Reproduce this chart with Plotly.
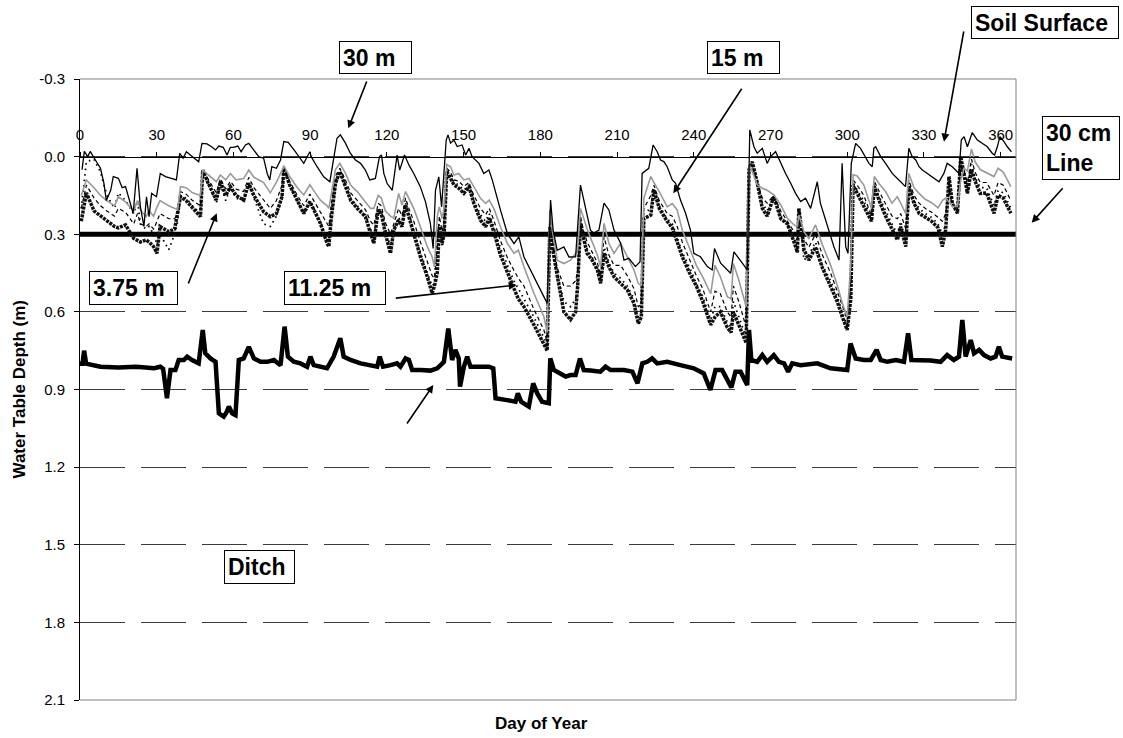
import plotly.graph_objects as go

# ---------------- data ----------------
DAYS_30M = [0.8, 1.7, 3, 4, 6, 8, 9.3, 10.3, 12, 13, 15, 16.5, 17.8, 19.7, 20.8, 22.3, 23.6, 25, 26, 27, 28, 29.9,
            31.4, 33.4, 35.4, 37.7, 39, 40.3, 41.6, 43.8, 46.4, 47.7, 49.7, 51.7, 53, 54.3, 56, 57.5, 58.8, 60, 61.7,
            63, 64.7, 66, 68, 69.9, 71.8, 73.2, 74.2, 75, 76.8, 78.4, 79.7, 81.4, 84.2, 87.5, 89.9, 90.4, 92.7, 95.3,
            97.7, 99.2, 100.5, 101.8, 103.8, 105.7, 107.7, 109.7, 111.6, 113.3, 115.5, 117.1, 117.9, 118.8, 120.1,
            122.1, 124, 125, 126.9, 128.6, 130.5, 133.1, 135.1, 137, 138.1, 139, 140.3, 141.4, 142.3, 143.2, 143.9,
            144.9, 146.2, 147.5, 149.4, 150.8, 152.1, 153.3, 156, 157.9, 159.9, 161.2, 164.4, 167.1, 169.7, 171.6,
            173.6, 177.5, 181.4, 182.7, 184, 185, 186.6, 189.2, 191.2, 193.8, 195.7, 197.7, 199.6, 200.9, 202.9,
            204.9, 206.8, 208.8, 211.4, 212.7, 214.6, 217.2, 219, 219.8, 222.4, 224.1, 225.7, 227, 228.3, 229.6,
            231.6, 232.9, 234.8, 236.8, 238.7, 240, 242.6, 245.3, 247.2, 248.1, 250.5, 254.4, 255.7, 259, 260.9,
            261.9, 263.5, 264.8, 266.8, 268.7, 270, 272, 274, 275.9, 277.9, 279.8, 281.8, 283.7, 285.7, 288.3,
            289.5, 292.2, 294.8, 296.8, 298, 299.4, 300.3, 301.6, 303.3, 305.2, 307.2, 308.5, 309.8, 310.4, 311.1,
            313.1, 315, 317.6, 320.2, 322.8, 324.1, 325.4, 326.8, 328.1, 329.4, 331.3, 333.3, 335.9, 337.8, 339.1,
            341.1, 342.4, 343.7, 344.6, 345.7, 347, 348.9, 350.9, 352.8, 354.8, 356.7, 357.6, 358.7, 359.7, 361.3,
            362.6, 364.2]
DEPTH_30M = [0.05, -0.02, 0.0, -0.02, 0.013, 0.045, 0.1, 0.17, 0.13, 0.077, 0.084, 0.12, 0.116, 0.18, 0.22, 0.045,
             0.193, 0.27, 0.155, 0.232, 0.142, 0.155, 0.065, 0.077, 0.084, 0.09, -0.013, 0.006, -0.019, 0.0, 0.02,
             -0.051, -0.049, -0.036, -0.026, -0.041, -0.036, -0.006, -0.036, -0.036, -0.041, -0.019, -0.045,
             -0.051, -0.026, 0.0, 0.006, 0.065, 0.09, 0.039, 0.045, 0.013, -0.058, -0.055, -0.019, 0.026, -0.019,
             0.0, 0.039, 0.078, 0.097, 0.0, -0.071, -0.084, -0.052, -0.013, 0.013, 0.026, 0.052, 0.09, 0.084, 0.0,
             -0.006, 0.065, 0.104, 0.13, -0.006, 0.052, -0.006, 0.032, 0.065, 0.117, 0.175, 0.258, 0.355, 0.13,
             0.078, 0.194, 0.078, -0.064, -0.084, -0.052, -0.064, -0.039, -0.045, -0.006, -0.032, 0.0, 0.026,
             0.065, 0.052, 0.09, 0.206, 0.297, 0.336, 0.31, 0.388, 0.465, 0.541, 0.567, 0.168, 0.284, 0.362,
             0.349, 0.388, 0.387, 0.11, 0.206, 0.284, 0.296, 0.284, 0.18, 0.206, 0.284, 0.335, 0.4, 0.393, 0.425,
             0.406, 0.065, 0.045, -0.045, -0.019, 0.013, 0.019, 0.039, 0.09, 0.103, 0.168, 0.219, 0.284, 0.374,
             0.387, 0.425, 0.438, 0.355, 0.412, 0.451, 0.368, 0.412, 0.438, -0.103, -0.039, -0.013, -0.032, 0.026,
             0.0, -0.019, 0.026, 0.065, 0.103, 0.142, 0.174, 0.161, 0.2, 0.097, 0.18, 0.27, 0.348, 0.4, 0.026,
             0.348, 0.374, 0.026, -0.051, -0.032, 0.0, 0.026, 0.039, -0.032, -0.038, 0.0, 0.026, 0.065, 0.09,
             0.116, -0.032, 0.0, 0.013, 0.039, 0.052, 0.065, 0.077, 0.097, 0.065, 0.026, 0.039, 0.052, 0.065,
             -0.064, -0.077, -0.038, -0.093, -0.064, -0.051, -0.038, -0.013, -0.006, -0.038, -0.077, -0.058,
             -0.038, -0.019]

DAYS = [0.5, 2.5, 5.5, 8, 10.5, 13.5, 15, 17.8, 21, 22.5, 23.6, 25.8, 27, 28.8, 30.1, 31.3, 34.7, 37, 38.2, 39.3,
        41.5, 44, 47.1,
        48, 50, 53.3, 54.9, 57, 58.8, 61, 64, 66, 68, 71.8, 74.4, 76.8, 79, 79.7, 82, 85, 87.5, 89.9, 92, 94, 96.6,
        97.3,
        98.2, 99.9, 101.6, 103.8, 105.8, 108.4, 111.6, 113.6, 114.9, 116.6, 117.8, 119.4, 121.4, 122.7, 124.6,
        125.9, 127.3, 128.6, 130.5, 133.1, 135.8, 137.7, 138.6, 139.7, 140.5, 141.6, 142.4,
        143.4, 144.9, 146.2, 148.1, 150.1, 152.1, 154, 156.6, 158.6, 160, 161.8, 164.4, 167.1, 169.7, 171.4, 173.6,
        177.5, 181.4, 182.7, 183.7, 184.7, 186.6, 189.2, 191.8, 193.8, 194.6,
        195.7, 197, 198.3, 200.3, 202.3, 203.6, 204.9, 206.8, 208.8, 211.4, 214, 216.6, 218.3, 219.5, 220.5, 223.2,
        224.4, 226.5, 229.6, 231.6, 233.5, 235.5, 238.4, 241, 243.5, 246.6, 248.3, 250.4, 253.1, 254.6, 255.5,
        257.6, 260.5,
        261.6, 262.9, 264.8, 266.8, 268.7, 271.3, 274, 276.6, 279.2, 280.5, 281.1, 283.1, 285, 287.6, 290.3, 293.5,
        296.1, 298.1, 300, 301.4, 302.3,
        303.9, 306.5, 309.5, 310.6, 312.5, 315, 317.5, 319.6, 320.9, 322.9, 324.1, 326.1, 328.1, 330.5, 333, 335.5,
        337.2, 338.5, 339.8, 341.1, 343.1, 344.4, 345.7, 347, 348.6, 350, 352, 354.5, 357.4, 359, 361, 364]

DEPTH_15M = [0.15, 0.09, 0.12, 0.15, 0.17, 0.19, 0.155, 0.175, 0.21, 0.17, 0.205, 0.232, 0.21, 0.23, 0.195, 0.17,
             0.19, 0.2, 0.205, 0.116, 0.12, 0.14, 0.15,
             0.052, 0.07, 0.097, 0.071, 0.09, 0.065, 0.09, 0.085, 0.052, 0.08, 0.1, 0.14, 0.1, 0.052, 0.035, 0.077,
             0.12, 0.148, 0.109, 0.14, 0.168, 0.19, 0.2,
             0.15, 0.05, 0.026, 0.065, 0.11, 0.135, 0.175, 0.2, 0.2, 0.15, 0.16, 0.21, 0.23, 0.238, 0.142, 0.187,
             0.135, 0.16, 0.2, 0.271, 0.348, 0.387, 0.426, 0.232, 0.194, 0.239, 0.194,
             0.03, 0.039, 0.071, 0.065, 0.09, 0.084, 0.116, 0.161, 0.181, 0.168, 0.2, 0.271, 0.335, 0.374, 0.361,
             0.426, 0.528, 0.619, 0.68, 0.206, 0.284, 0.4, 0.413, 0.4, 0.374, 0.36,
             0.2, 0.24, 0.28, 0.33, 0.38, 0.426, 0.258, 0.335, 0.374, 0.335, 0.387, 0.438, 0.49, 0.5, 0.16, 0.077,
             0.1, 0.135, 0.194, 0.181, 0.206, 0.284, 0.355, 0.42, 0.465, 0.53, 0.42, 0.464, 0.541, 0.55, 0.413,
             0.477, 0.58,
             0.032, 0.058, 0.109, 0.122, 0.13, 0.148, 0.187, 0.238, 0.264, 0.27, 0.226, 0.29, 0.316, 0.264, 0.341,
             0.419, 0.497, 0.567, 0.619, 0.413, 0.07,
             0.075, 0.11, 0.2, 0.077, 0.105, 0.135, 0.18, 0.155, 0.18, 0.22, 0.065, 0.12, 0.142, 0.165, 0.178,
             0.198, 0.17, 0.16, 0.175, 0.193, 0.193, 0.09, 0.045, 0.055, -0.03, 0.02, 0.05, 0.063, 0.077, 0.045,
             0.06, 0.116]

DEPTH_11_25M = [0.2, 0.11, 0.16, 0.19, 0.21, 0.23, 0.2, 0.215, 0.26, 0.22, 0.26, 0.27, 0.26, 0.28, 0.25, 0.22,
                0.24, 0.24, 0.22, 0.135, 0.145, 0.17, 0.19,
                0.052, 0.085, 0.14, 0.085, 0.125, 0.095, 0.125, 0.135, 0.08, 0.12, 0.165, 0.2, 0.17, 0.11, 0.04,
                0.095, 0.15, 0.19, 0.145, 0.18, 0.215, 0.26, 0.27,
                0.19, 0.075, 0.045, 0.09, 0.14, 0.17, 0.205, 0.25, 0.265, 0.18, 0.19, 0.255, 0.3, 0.26, 0.2, 0.23,
                0.16, 0.2, 0.25, 0.33, 0.41, 0.46, 0.47, 0.35, 0.23, 0.29, 0.25,
                0.045, 0.06, 0.09, 0.095, 0.115, 0.1, 0.15, 0.2, 0.225, 0.2, 0.245, 0.325, 0.39, 0.44, 0.47, 0.5,
                0.59, 0.67, 0.72, 0.24, 0.32, 0.43, 0.5, 0.5, 0.48, 0.44,
                0.23, 0.29, 0.33, 0.37, 0.41, 0.46, 0.31, 0.38, 0.42, 0.42, 0.46, 0.51, 0.58, 0.57, 0.2, 0.15, 0.11,
                0.17, 0.22, 0.23, 0.27, 0.33, 0.4, 0.46, 0.51, 0.6, 0.52, 0.53, 0.6, 0.62, 0.5, 0.56, 0.66,
                0.04, 0.04, 0.1, 0.16, 0.18, 0.15, 0.21, 0.25, 0.29, 0.31, 0.21, 0.32, 0.35, 0.3, 0.38, 0.45, 0.52,
                0.58, 0.63, 0.48, 0.09,
                0.11, 0.15, 0.23, 0.095, 0.135, 0.18, 0.23, 0.24, 0.22, 0.28, 0.09, 0.15, 0.18, 0.2, 0.215, 0.235,
                0.25, 0.22, 0.13, 0.185, 0.205, 0.04, 0.055, 0.1, 0.01, 0.06, 0.1, 0.1, 0.15, 0.1, 0.11, 0.17]

DEPTH_7_5M = [0.2, 0.02, 0.01, 0.06, 0.15, 0.2, 0.14, 0.17, 0.22, 0.17, 0.26, 0.28, 0.27, 0.3, 0.34, 0.3, 0.36,
              0.3, 0.25, 0.15, 0.16, 0.19, 0.22,
              0.06, 0.1, 0.18, 0.11, 0.17, 0.12, 0.16, 0.17, 0.11, 0.16, 0.26, 0.27, 0.23, 0.16, 0.05, 0.11, 0.17,
              0.22, 0.17, 0.21, 0.25, 0.32, 0.33,
              0.24, 0.1, 0.055, 0.11, 0.16, 0.19, 0.225, 0.28, 0.31, 0.2, 0.21, 0.28, 0.35, 0.28, 0.235, 0.26, 0.18,
              0.22, 0.285, 0.37, 0.45, 0.5, 0.49, 0.3, 0.26, 0.35, 0.3,
              0.05, 0.07, 0.1, 0.11, 0.13, 0.11, 0.17, 0.225, 0.25, 0.22, 0.27, 0.355, 0.42, 0.48, 0.51, 0.55, 0.62,
              0.7, 0.74, 0.26, 0.34, 0.45, 0.56, 0.58, 0.55, 0.48,
              0.25, 0.31, 0.36, 0.39, 0.43, 0.48, 0.35, 0.41, 0.45, 0.47, 0.5, 0.55, 0.62, 0.6, 0.22, 0.2, 0.12,
              0.19, 0.24, 0.26, 0.31, 0.37, 0.43, 0.49, 0.54, 0.63, 0.58, 0.58, 0.64, 0.66, 0.56, 0.62, 0.7,
              0.05, 0.03, 0.1, 0.18, 0.21, 0.15, 0.23, 0.26, 0.31, 0.36, 0.2, 0.4, 0.38, 0.33, 0.42, 0.48, 0.54,
              0.6, 0.66, 0.52, 0.1,
              0.13, 0.17, 0.24, 0.11, 0.155, 0.21, 0.26, 0.3, 0.25, 0.33, 0.1, 0.17, 0.2, 0.22, 0.235, 0.26, 0.3,
              0.26, 0.1, 0.18, 0.21, 0.02, 0.06, 0.12, 0.03, 0.08, 0.12, 0.12, 0.19, 0.13, 0.14, 0.2]

DEPTH_3_75M = [0.25, 0.14, 0.21, 0.23, 0.25, 0.27, 0.275, 0.264, 0.316, 0.325, 0.33, 0.322, 0.33, 0.348, 0.374,
               0.27, 0.29, 0.28, 0.22, 0.155, 0.17, 0.2, 0.232,
               0.052, 0.1, 0.168, 0.097, 0.15, 0.116, 0.15, 0.168, 0.103, 0.15, 0.213, 0.232, 0.22, 0.155, 0.045,
               0.11, 0.17, 0.22, 0.174, 0.215, 0.258, 0.335, 0.348,
               0.245, 0.103, 0.058, 0.116, 0.168, 0.2, 0.232, 0.297, 0.335, 0.206, 0.219, 0.297, 0.374, 0.284,
               0.245, 0.271, 0.187, 0.232, 0.297, 0.387, 0.464, 0.528, 0.5, 0.45, 0.271, 0.335, 0.297,
               0.058, 0.084, 0.109, 0.122, 0.142, 0.116, 0.181, 0.245, 0.271, 0.238, 0.29, 0.38, 0.45, 0.51, 0.55,
               0.58, 0.65, 0.72, 0.75, 0.27, 0.35, 0.46, 0.6, 0.63, 0.6, 0.5,
               0.258, 0.32, 0.374, 0.4, 0.438, 0.49, 0.374, 0.426, 0.464, 0.49, 0.515, 0.567, 0.645, 0.62, 0.24,
               0.226, 0.13, 0.2, 0.25, 0.275, 0.33, 0.387, 0.451, 0.5, 0.56, 0.65, 0.62, 0.6, 0.66, 0.68, 0.6,
               0.65, 0.72,
               0.05, 0.02, 0.1, 0.2, 0.23, 0.155, 0.24, 0.26, 0.33, 0.37, 0.2, 0.36, 0.4, 0.35, 0.43, 0.5, 0.56,
               0.62, 0.67, 0.55, 0.11,
               0.142, 0.193, 0.25, 0.116, 0.17, 0.23, 0.28, 0.322, 0.271, 0.348, 0.116, 0.18, 0.219, 0.235, 0.25,
               0.275, 0.348, 0.284, 0.077, 0.181, 0.219, 0.0, 0.065, 0.142, 0.052, 0.095, 0.142, 0.14, 0.219,
               0.15, 0.16, 0.219]

DAYS_DITCH = [0, 1, 1.6, 2.4, 8, 15, 22, 29, 31.4, 32.5, 34, 35.4, 37.3, 38.6, 40.6, 41.9, 43.8, 46.4, 48, 49,
              51, 53, 54.3, 56.2, 57.2, 58.2, 59.5, 60.8, 62.1, 64, 66, 68, 70.6, 73.2, 75.8, 78.4, 80, 81.3, 83.6,
              86.2, 88.8, 90.1, 91.4, 94, 96.6, 99.2, 100.8, 101.8, 103.1, 105.8, 109.7, 113.6, 116.2, 117.2, 118.5,
              121.4, 124, 125.3, 127.3, 128.6, 129.9, 133.1, 137, 139.7, 141, 142.3, 144, 145.5, 146.8, 148.1,
              148.6, 150.1, 151.4, 152.7, 155.3, 159.9, 161.6, 162.5, 167, 170.3, 171.2, 172.5, 175.5, 177.2,
              178.8, 180.7, 183.3, 183.9, 185.3, 187.9, 189.9, 191.8, 193.8, 195.5, 197, 199.6, 203.5, 205.5,
              207.5, 212.7, 216, 218, 219.9, 221.8, 223.7, 225.7, 229.6, 234.8, 240, 243.9, 246.5, 248.5, 251.1,
              254.7, 256.3, 258.3, 260.9, 261.6, 262.5, 264.8, 266.8, 268.7, 271.3, 273.3, 275.3, 276.9, 278.5,
              281.8, 288.3, 293.5, 300, 301.3, 303.3, 306.5, 309.2, 311.5, 313.1, 315.7, 319, 322.2, 323.8, 325.1,
              328.7, 332.6, 336.5, 339.1, 341.7, 343.7, 345, 346.3, 348.3, 349.6, 351.6, 353.5, 356.1, 358, 359.3,
              360.6, 364.5]
DEPTH_DITCH = [0.8, 0.8, 0.75, 0.8, 0.812, 0.815, 0.812, 0.818, 0.812, 0.82, 0.934, 0.825, 0.825, 0.786, 0.786,
               0.773, 0.786, 0.799, 0.67, 0.76, 0.78, 0.793, 0.992, 1.005, 0.99, 0.966, 0.992, 0.999, 0.786, 0.78,
               0.735, 0.78, 0.793, 0.793, 0.786, 0.806, 0.657, 0.773, 0.793, 0.799, 0.812, 0.773, 0.806, 0.812,
               0.818, 0.773, 0.735, 0.702, 0.773, 0.786, 0.799, 0.806, 0.812, 0.773, 0.812, 0.806, 0.799, 0.812,
               0.78, 0.786, 0.825, 0.825, 0.827, 0.818, 0.806, 0.793, 0.664, 0.786, 0.747, 0.78, 0.889, 0.812,
               0.773, 0.812, 0.812, 0.812, 0.818, 0.934, 0.941, 0.947, 0.915, 0.947, 0.966, 0.876, 0.915, 0.947,
               0.953, 0.78, 0.825, 0.838, 0.85, 0.844, 0.844, 0.78, 0.825, 0.827, 0.831, 0.812, 0.825, 0.825,
               0.831, 0.876, 0.799, 0.793, 0.78, 0.799, 0.793, 0.806, 0.818, 0.838, 0.902, 0.825, 0.825, 0.892,
               0.831, 0.831, 0.883, 0.67, 0.786, 0.793, 0.767, 0.793, 0.767, 0.793, 0.799, 0.831, 0.799, 0.806,
               0.799, 0.818, 0.825, 0.722, 0.78, 0.786, 0.786, 0.747, 0.786, 0.793, 0.786, 0.793, 0.683, 0.786,
               0.786, 0.788, 0.793, 0.767, 0.786, 0.773, 0.631, 0.773, 0.709, 0.76, 0.747, 0.767, 0.78, 0.773,
               0.735, 0.773, 0.78]

LINE_30CM_DAYS = [0, 366]
LINE_30CM_DEPTH = [0.3, 0.3]

X_TICKS = [0, 30, 60, 90, 120, 150, 180, 210, 240, 270, 300, 330, 360]
Y_TICKS = [-0.3, 0.0, 0.3, 0.6, 0.9, 1.2, 1.5, 1.8, 2.1]
Y_TICK_TEXT = ["-0.3", "0.0", "0.3", "0.6", "0.9", "1.2", "1.5", "1.8", "2.1"]

# ---------------- layout geometry ----------------
W, H = 1123, 738
L, R, T, B = 80, 107, 79, 38
PW = W - L - R
PH = H - T - B
FONT = "Liberation Sans, Arial, sans-serif"


def px(x):
    return (x - L) / PW


def py(y):
    return (H - B - y) / PH


fig = go.Figure()

fig.add_trace(go.Scatter(x=DAYS_DITCH, y=DEPTH_DITCH, mode="lines",
                         line=dict(color="black", width=4.5), name="Ditch"))
fig.add_trace(go.Scatter(x=LINE_30CM_DAYS, y=LINE_30CM_DEPTH, mode="lines",
                         line=dict(color="black", width=5), name="30 cm Line"))
fig.add_trace(go.Scatter(x=DAYS, y=DEPTH_3_75M, mode="lines",
                         line=dict(color="#111111", width=3.5, dash="3px,1px"), name="3.75 m"))
fig.add_trace(go.Scatter(x=DAYS, y=DEPTH_7_5M, mode="lines",
                         line=dict(color="black", width=1.8, dash="1.5px,4px"), name="7.5 m"))
fig.add_trace(go.Scatter(x=DAYS, y=DEPTH_11_25M, mode="lines",
                         line=dict(color="black", width=1.2, dash="4px,3px"), name="11.25 m"))
fig.add_trace(go.Scatter(x=DAYS, y=DEPTH_15M, mode="lines",
                         line=dict(color="#9a9a9a", width=1.6), name="15 m"))
fig.add_trace(go.Scatter(x=DAYS_30M, y=DEPTH_30M, mode="lines",
                         line=dict(color="black", width=1.3), name="30 m"))

zero_pos = (Y_TICKS[-1] - 0.0) / (Y_TICKS[-1] - Y_TICKS[0])

fig.update_layout(
    width=W, height=H,
    margin=dict(l=L, r=R, t=T, b=B),
    paper_bgcolor="white", plot_bgcolor="white",
    showlegend=False,
    font=dict(family=FONT, color="black", size=15),
    xaxis=dict(range=[0, 366], tickvals=X_TICKS, side="top", anchor="free", position=zero_pos,
               showline=True, linecolor="black", linewidth=1, ticks="outside", ticklen=5,
               tickcolor="black", showgrid=False, zeroline=False, ticklabelstandoff=6,
               tickfont=dict(size=15, family=FONT, color="black")),
    yaxis=dict(range=[Y_TICKS[-1], Y_TICKS[0]], tickvals=Y_TICKS, ticktext=Y_TICK_TEXT,
               showline=True, linecolor="black", linewidth=1, ticks="outside", ticklen=5,
               tickcolor="black", showgrid=True, gridcolor="#3c3c3c", gridwidth=1,
               griddash="45px,16px", zeroline=False, ticklabelstandoff=6,
               tickfont=dict(size=15, family=FONT, color="black")),
)

# plot-area border (top, right, bottom)
border = dict(color="#808080", width=1)
fig.add_shape(type="line", xref="paper", yref="paper", x0=0, x1=1, y0=1, y1=1, line=border)
fig.add_shape(type="line", xref="paper", yref="paper", x0=1, x1=1, y0=0, y1=1, line=border)
fig.add_shape(type="line", xref="paper", yref="paper", x0=0, x1=1, y0=0, y1=0, line=border)

# axis titles
fig.add_annotation(text="<b>Water Table Depth (m)</b>", xref="paper", yref="paper",
                   x=px(19), y=0.5, xanchor="center", yanchor="middle", textangle=-90,
                   showarrow=False, font=dict(size=17, family=FONT, color="black"))
fig.add_annotation(text="<b>Day of Year</b>", xref="paper", yref="paper",
                   x=px(541), y=py(723), xanchor="center", yanchor="middle",
                   showarrow=False, font=dict(size=17, family=FONT, color="black"))

# label boxes: (text, x0, y0, x1, y1) in pixels
BOXES = [
    ("<b>30 m</b>", 338.7, 40.7, 412, 74),
    ("<b>15 m</b>", 706.7, 40.7, 779.3, 74),
    ("<b>Soil Surface</b>", 970.7, 6, 1118.3, 39.3),
    ("<b>30 cm<br>Line</b>", 1041.7, 116, 1120, 180),
    ("<b>3.75 m</b>", 88.3, 270.7, 177.7, 304.3),
    ("<b>11.25 m</b>", 283.3, 270.7, 385.7, 304.3),
    ("<b>Ditch</b>", 224, 550.7, 294.5, 584.2),
]
for text, x0, y0, x1, y1 in BOXES:
    pad = 3
    fig.add_annotation(text=text, xref="paper", yref="paper",
                       x=px((x0 + x1) / 2), y=py((y0 + y1) / 2), xanchor="center", yanchor="middle",
                       width=(x1 - x0) - 2 * (pad + 1), height=(y1 - y0) - 2 * (pad + 1),
                       align="left", valign="middle", showarrow=False,
                       bordercolor="black", borderwidth=1, borderpad=pad, bgcolor="white",
                       font=dict(size=23, family=FONT, color="black"))

# arrows: (tail_x, tail_y, tip_x, tip_y) in pixels
ARROWS = [
    (367.3, 80, 348.3, 128.3),
    (742.7, 87.3, 673.3, 193.3),
    (964, 30, 944, 141.7),
    (1064, 186.7, 1031.7, 222.7),
    (187.7, 285, 216.7, 213.3),
    (394.3, 298.3, 516.7, 285),
    (406, 425, 433.3, 385),
]
for tx, ty, hx, hy in ARROWS:
    fig.add_annotation(text="", xref="paper", yref="paper", x=px(hx), y=py(hy),
                       ax=tx - hx, ay=ty - hy, axref="pixel", ayref="pixel",
                       showarrow=True, arrowhead=2, arrowsize=1, arrowwidth=1.6, arrowcolor="black",
                       standoff=0, startstandoff=0)

fig.write_html("out.html")
